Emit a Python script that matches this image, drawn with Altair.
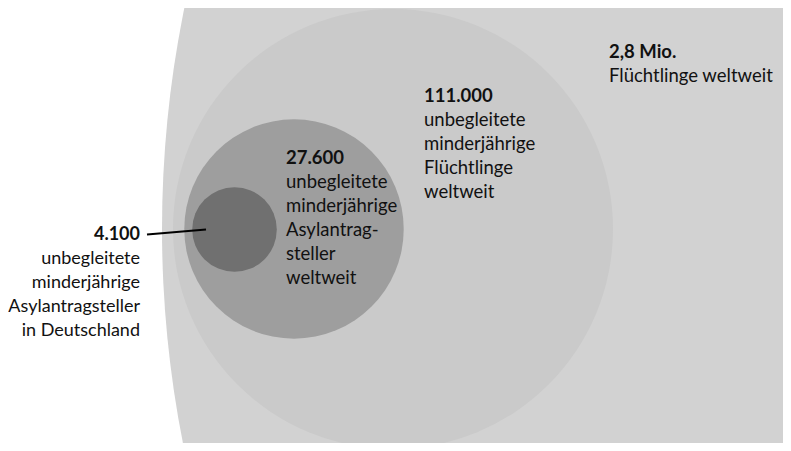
import altair as alt
import pandas as pd

# --- data ---
values = [2800000, 111000, 27600, 4100]
circle_x = [1267, 393, 294, 234.5]
circle_y = [229, 229, 229, 229.5]
fills = ["#d2d2d2", "#cacaca", "#9e9e9e", "#707070"]

headers = ["2,8 Mio.", "111.000", "27.600", "4.100"]
bodies = [
    "Flüchtlinge weltweit",
    "unbegleitete\nminderjährige\nFlüchtlinge\nweltweit",
    "unbegleitete\nminderjährige\nAsylantrag-\nsteller\nweltweit",
    "unbegleitete\nminderjährige\nAsylantragsteller\nin Deutschland",
]
label_x = [609, 424, 286, 140]
label_y = [58, 102, 164, 240]
label_align = ["left", "left", "left", "right"]

leader = {"x": [147], "y": [234.5], "x2": [206], "y2": [229.5]}

circles = pd.DataFrame({"value": values, "cx": circle_x, "cy": circle_y, "fill": fills,
                        "order": list(range(len(values)))})
labels = pd.DataFrame({"header": headers, "body": bodies, "lx": label_x, "ly": label_y,
                       "align": label_align})
labels["by"] = labels["ly"] + 24

W, H = 775, 435
xs = alt.Scale(domain=[8, 8 + W])
ys = alt.Scale(domain=[8, 8 + H], reverse=True)
FONT = "Lato"

circ = alt.Chart(circles).mark_circle(opacity=1, clip=True, strokeWidth=0).encode(
    x=alt.X("cx:Q", scale=xs, axis=None),
    y=alt.Y("cy:Q", scale=ys, axis=None),
    size=alt.Size("value:Q", scale=alt.Scale(domain=[0, 2800000], range=[0, 4 * 1105 ** 2]), legend=None),
    color=alt.Color("fill:N", scale=None),
    order=alt.Order("order:Q"),
)

rule = alt.Chart(pd.DataFrame(leader)).mark_rule(color="#000000", strokeWidth=2).encode(
    x=alt.X("x:Q", scale=xs, axis=None),
    y=alt.Y("y:Q", scale=ys, axis=None),
    x2="x2:Q",
    y2="y2:Q",
)

def text_layer(align, fs):
    sub = labels[labels["align"] == align]
    head = alt.Chart(sub).mark_text(align=align, baseline="alphabetic", font=FONT, fontSize=fs,
                                   fontWeight="bold", color="#111111").encode(
        x=alt.X("lx:Q", scale=xs, axis=None),
        y=alt.Y("ly:Q", scale=ys, axis=None),
        text="header:N",
    )
    body = alt.Chart(sub).mark_text(align=align, baseline="alphabetic", font=FONT, fontSize=fs,
                                   lineBreak="\n", lineHeight=24, color="#111111").encode(
        x=alt.X("lx:Q", scale=xs, axis=None),
        y=alt.Y("by:Q", scale=ys, axis=None),
        text="body:N",
    )
    return head + body

chart = alt.layer(circ, rule, text_layer("left", 18.5), text_layer("right", 18)).properties(
    width=W, height=H, padding=0, autosize=alt.AutoSizeParams(type="none")
).configure_view(stroke=None)

chart.save("out.html", embed_options={"renderer": "svg", "actions": False})
